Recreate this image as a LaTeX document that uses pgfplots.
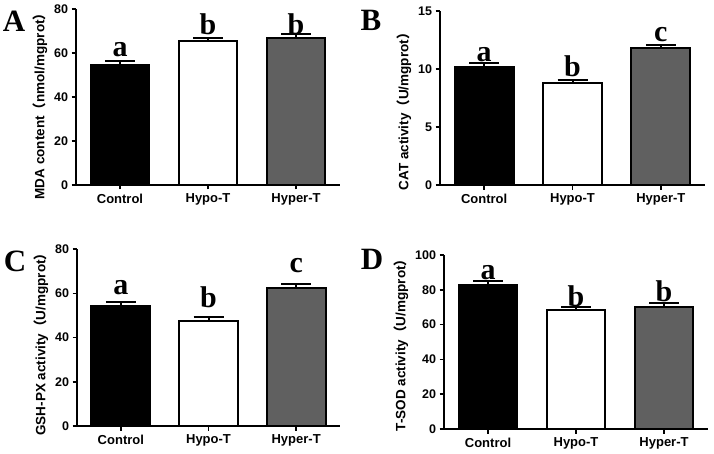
\documentclass[border=0pt]{standalone}
\usepackage{pgfplots}
\pgfplotsset{compat=1.18}
\usepackage{fontspec}
\setmainfont{Liberation Serif}
\newfontfamily\arial{Liberation Sans}
\newfontfamily\cjk{Noto Sans CJK SC}
\definecolor{hypergray}{RGB}{96,96,96}

\pgfplotsset{
  mybar/.style={
    scale only axis, anchor=south west,
    xmin=-0.5, xmax=2.5, ymin=0,
    axis x line*=bottom, axis y line*=left,
    axis line style={line width=2pt},
    every tick/.style={black, line width=1.5pt},
    tick align=outside, major tick length=4.5pt,
    xtick={0,1,2}, xticklabels={Control,Hypo-T,Hyper-T},
    x tick label style={font=\arial\bfseries\fontsize{13}{13}\selectfont, yshift=-1pt},
    y tick label style={font=\arial\bfseries\fontsize{12.5}{12.5}\selectfont},
    ylabel style={font=\arial\bfseries\fontsize{13.5}{13.5}\selectfont},
    /pgf/number format/assume math mode=true,
    ybar, bar width=0.67, bar shift=0pt,
    clip=false,
  },
  bb/.style={draw=black, line width=2pt,
    error bars/.cd, y dir=plus, y explicit, error mark=|,
    error bar style={line width=2pt, black},
    error mark options={draw=black, line width=2pt, mark size=15pt}},
  lab/.style={draw=none, fill=none, nodes near coords, point meta=explicit symbolic,
    every node near coord/.append style={font=\bfseries\fontsize{30}{30}\selectfont, anchor=base, inner sep=0pt}},
}

\begin{document}
\begin{tikzpicture}
\useasboundingbox (0,0) rectangle (714pt,453pt);

% Panel A
\begin{axis}[mybar, at={(76pt,268pt)}, width=264pt, height=176pt, ymax=80, ytick={0,20,40,60,80},
  ylabel={MDA content{\cjk （}nmol/mgprot{\cjk ）}}, ylabel style={at={(ticklabel cs:0.466)}}]
\addplot[fill=black, bb] coordinates {(0,54.5) +- (0,1.9)};
\addplot[fill=white, bb] coordinates {(1,65.3) +- (0,1.4)};
\addplot[fill=hypergray, bb] coordinates {(2,67.0) +- (0,1.6)};
\addplot[lab] table[meta=l] {
x y l
0 58.3 a
1 68.6 b
2 68.6 b
};
\end{axis}

% Panel B
\begin{axis}[mybar, at={(440pt,268pt)}, width=265pt, height=174pt, ymax=15, ytick={0,5,10,15},
  ylabel={CAT activity{\cjk （}U/mgprot{\cjk ）}}, ylabel style={at={(ticklabel cs:0.44)}}]
\addplot[fill=black, bb] coordinates {(0,10.2) +- (0,0.34)};
\addplot[fill=white, bb] coordinates {(1,8.82) +- (0,0.2)};
\addplot[fill=hypergray, bb] coordinates {(2,11.78) +- (0,0.29)};
\addplot[lab] table[meta=l] {
x y l
0 10.63 a
1 9.34 b
2 12.35 c
};
\end{axis}

% Panel C
\begin{axis}[mybar, at={(77pt,27pt)}, width=263pt, height=177pt, ymax=80, ytick={0,20,40,60,80},
  ylabel={GSH-PX activity{\cjk （}U/mgprot{\cjk ）}}, ylabel style={at={(ticklabel cs:0.48)}}]
\addplot[fill=black, bb] coordinates {(0,54.3) +- (0,1.6)};
\addplot[fill=white, bb] coordinates {(1,47.5) +- (0,1.8)};
\addplot[fill=hypergray, bb] coordinates {(2,62.4) +- (0,1.8)};
\addplot[lab] table[meta=l] {
x y l
0 59.4 a
1 53.4 b
2 69.2 c
};
\end{axis}

% Panel D
\begin{axis}[mybar, at={(444pt,24pt)}, width=264pt, height=174pt, ymax=100, ytick={0,20,40,60,80,100},
  ylabel={T-SOD activity{\cjk （}U/mgprot{\cjk ）}}, ylabel style={at={(ticklabel cs:0.5)}}]
\addplot[fill=black, bb] coordinates {(0,82.5) +- (0,2.3)};
\addplot[fill=white, bb] coordinates {(1,68.3) +- (0,1.9)};
\addplot[fill=hypergray, bb] coordinates {(2,70.4) +- (0,2.3)};
\addplot[lab] table[meta=l] {
x y l
0 86.0 a
1 70.6 b
2 73.5 b
};
\end{axis}

\node[font=\bfseries\fontsize{31}{31}\selectfont, anchor=base, inner sep=0pt] at (14pt,421pt) {A};
\node[font=\bfseries\fontsize{31}{31}\selectfont, anchor=base, inner sep=0pt] at (371pt,422pt) {B};
\node[font=\bfseries\fontsize{31}{31}\selectfont, anchor=base, inner sep=0pt] at (15pt,182pt) {C};
\node[font=\bfseries\fontsize{31}{31}\selectfont, anchor=base, inner sep=0pt] at (372pt,184pt) {D};
\end{tikzpicture}
\end{document}
